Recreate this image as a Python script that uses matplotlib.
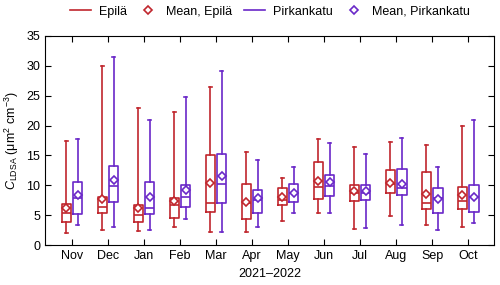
import numpy as np
import matplotlib
matplotlib.use('Agg')
import matplotlib.pyplot as plt
from matplotlib.lines import Line2D

plt.rcParams['font.family'] = ['Liberation Sans', 'DejaVu Sans']
plt.rcParams['mathtext.fontset'] = 'custom'
plt.rcParams['mathtext.rm'] = 'Liberation Sans'
plt.rcParams['mathtext.it'] = 'Liberation Sans:italic'

# data
months = ['Nov', 'Dec', 'Jan', 'Feb', 'Mar', 'Apr', 'May', 'Jun', 'Jul', 'Aug', 'Sep', 'Oct']

# Epilä: whisker low, q1, median, q3, whisker high, mean
epila_low = [2.1, 2.6, 2.4, 3.1, 2.2, 2.2, 4.1, 5.3, 2.7, 4.8, 3.3, 3.1]
epila_q1 = [3.9, 5.3, 3.9, 4.6, 5.5, 4.4, 6.7, 7.7, 7.4, 8.7, 6.0, 6.0]
epila_med = [5.4, 6.4, 5.0, 6.7, 7.0, 7.0, 7.6, 9.7, 8.8, 10.2, 7.1, 7.3]
epila_q3 = [6.9, 8.1, 6.7, 7.8, 15.0, 10.3, 9.6, 13.9, 10.1, 12.5, 12.3, 9.7]
epila_high = [17.5, 29.9, 23.0, 22.2, 26.4, 15.6, 11.3, 17.7, 16.4, 17.3, 16.8, 20.0]
epila_mean = [6.2, 7.7, 6.2, 7.4, 10.4, 7.2, 8.0, 10.7, 9.0, 10.4, 8.6, 8.3]

# Pirkankatu
pirk_low = [3.4, 3.1, 2.5, 4.4, 2.2, 3.1, 5.3, 5.4, 2.9, 3.4, 2.5, 3.7]
pirk_q1 = [5.2, 7.2, 5.2, 6.3, 7.1, 5.4, 7.2, 8.2, 7.6, 8.4, 5.3, 5.5]
pirk_med = [7.8, 9.9, 6.2, 8.1, 10.2, 7.5, 8.8, 9.9, 8.8, 9.5, 7.8, 8.1]
pirk_q3 = [10.5, 13.2, 10.6, 10.0, 15.3, 9.2, 10.2, 11.8, 10.1, 12.7, 9.6, 10.0]
pirk_high = [17.8, 31.4, 21.0, 24.7, 29.1, 14.3, 13.0, 17.0, 15.2, 17.9, 13.0, 21.0]
pirk_mean = [8.4, 10.9, 8.0, 9.2, 11.5, 7.8, 8.8, 10.5, 9.0, 10.2, 7.7, 8.0]

red = '#c0262d'
purple = '#6a28c8'


def make_stats(low, q1, med, q3, high, mean):
    return [dict(whislo=a, q1=b, med=c, q3=d, whishi=e, mean=f, fliers=[])
            for a, b, c, d, e, f in zip(low, q1, med, q3, high, mean)]


fig = plt.figure(figsize=(5, 2.85), dpi=100)
ax = fig.add_axes([0.09, 0.14, 0.898, 0.734])

x = np.arange(len(months))
off = 0.155
w = 0.27
ms = 4.2

for stats, pos, col in [
    (make_stats(epila_low, epila_q1, epila_med, epila_q3, epila_high, epila_mean), x - off, red),
    (make_stats(pirk_low, pirk_q1, pirk_med, pirk_q3, pirk_high, pirk_mean), x + off, purple),
]:
    lp = dict(color=col, linewidth=1.2)
    ax.bxp(stats, positions=pos, widths=w, capwidths=0.08, showmeans=True,
           showfliers=False, patch_artist=False,
           boxprops=lp, whiskerprops=lp, capprops=lp, medianprops=lp,
           meanprops=dict(marker='D', markerfacecolor='white', markeredgecolor=col,
                          markersize=ms, markeredgewidth=1.2))

ax.set_xlim(-0.75, 11.72)
ax.set_ylim(0, 35)
ax.set_yticks(np.arange(0, 36, 5))
ax.set_xticks(x)
ax.set_xticklabels(months)
ax.tick_params(direction='in', top=True, right=True, labelsize=9, length=4)
ax.set_xlabel('2021–2022', fontsize=9)
ax.set_ylabel(r'$C_{\mathrm{LDSA}}$ ($\mathrm{\mu m^2\ cm^{-3}}$)', fontsize=9)

handles = [
    Line2D([], [], color=red, lw=1.2),
    Line2D([], [], color=red, marker='D', ls='none', markerfacecolor='white', markersize=ms, markeredgewidth=1.2),
    Line2D([], [], color=purple, lw=1.2),
    Line2D([], [], color=purple, marker='D', ls='none', markerfacecolor='white', markersize=ms, markeredgewidth=1.2),
]
labels = ['Epilä', 'Mean, Epilä', 'Pirkankatu', 'Mean, Pirkankatu']
fig.legend(handles, labels, loc='upper center', bbox_to_anchor=(0.54, 1.02), ncol=4,
           frameon=False, fontsize=9, handlelength=1.7, handletextpad=0.6, columnspacing=0.9)

fig.savefig('out.png', dpi=100)
